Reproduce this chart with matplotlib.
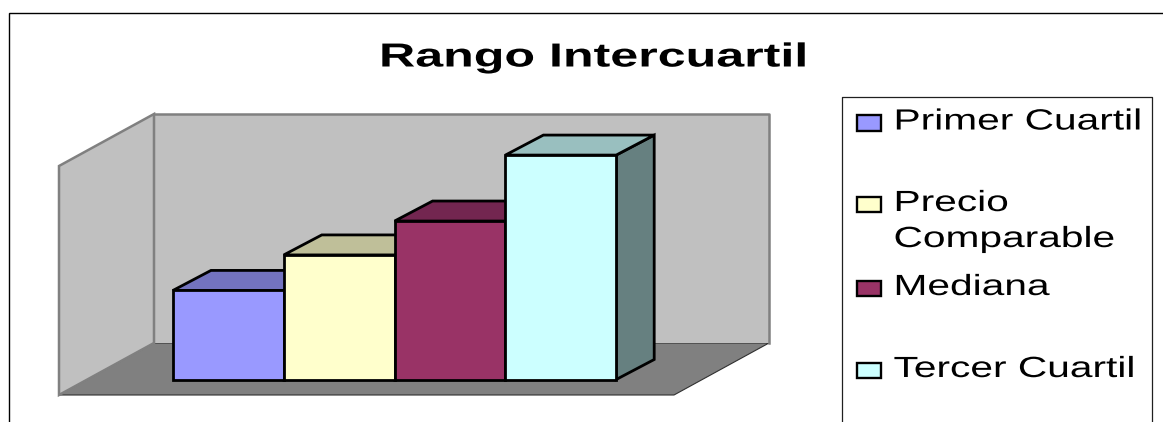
"""
Rango Intercuartil - 3D style column chart with wall, floor and legend box.
The figure axes work in image pixels, the bars go through a small projection.
"""

import matplotlib
matplotlib.use("Agg")
import matplotlib.pyplot as plt
import matplotlib.patheffects as pe
from matplotlib.patches import Polygon, Rectangle
from matplotlib.transforms import Affine2D

# ============================================================
# DATA
# ============================================================

title = "Rango Intercuartil"
categories = ["Primer Cuartil", "Precio\nComparable", "Mediana", "Tercer Cuartil"]
values = [38.9, 54.4, 69.2, 98.0]
front_colors = ["#9999FF", "#FFFFCC", "#993366", "#CCFFFF"]
top_colors = ["#7373BF", "#BFBF99", "#732650", "#99BFBF"]
side_colors = ["#4D4D80", "#808066", "#4D1A33", "#668080"]

# ============================================================
# LAYOUT (pixels)
# ============================================================

W, H = 1163, 422

WALL_X0, WALL_X1 = 154, 769
WALL_TOP, WALL_BOTTOM = 114, 343
FLOOR_DX, FLOOR_DY = 95, 52
SCALE_MAX = 100

BAR_X0 = 173
BAR_W = 110.8
BAR_BASE = 379.5
BAR_DX, BAR_DY = 38, 20

LEG_X0, LEG_X1, LEG_TOP = 841.5, 1151.5, 97
KEY_X, KEY_W, KEY_H = 856.5, 24, 15.5
LEG_TEXT_X = 893.5
LEG_BASELINES = [129.5, 211, 295, 377]


class StretchX(pe.AbstractPathEffect):
    """The source text is drawn wider than its font, so scale it around x0."""

    def __init__(self, sx, x0):
        super().__init__()
        self.sx = sx
        self.x0 = x0

    def draw_path(self, renderer, gc, tpath, affine, rgbFace=None):
        stretch = Affine2D().translate(-self.x0, 0).scale(self.sx, 1).translate(self.x0, 0)
        renderer.draw_path(gc, tpath, affine + stretch, rgbFace)


def value_y(v):
    return BAR_BASE - v / SCALE_MAX * (WALL_BOTTOM - WALL_TOP)


plt.rcParams["font.family"] = ["Liberation Sans", "DejaVu Sans"]

fig = plt.figure(figsize=(W / 100, H / 100), dpi=100)
ax = fig.add_axes([0, 0, 1, 1])
ax.set_xlim(0, W)
ax.set_ylim(H, 0)
ax.axis("off")

# Outer frame, cut off by the image on the right and at the bottom
ax.plot([8.5, 8.5, W], [H, 12.5, 12.5], color="black", lw=1.0, solid_joinstyle="miter")

ax.text(379, 66.5, title, fontsize=24, fontweight="bold", va="baseline", ha="left",
        path_effects=[StretchX(1.505, 379)])

# ============================================================
# WALLS AND FLOOR
# ============================================================

ax.add_patch(Polygon([(WALL_X0, WALL_BOTTOM), (WALL_X1, WALL_BOTTOM),
                      (WALL_X1 - FLOOR_DX, WALL_BOTTOM + FLOOR_DY),
                      (WALL_X0 - FLOOR_DX, WALL_BOTTOM + FLOOR_DY)],
                     facecolor="#808080", edgecolor="#303030", lw=0.8))
ax.add_patch(Polygon([(WALL_X0, WALL_TOP), (WALL_X1, WALL_TOP),
                      (WALL_X1, WALL_BOTTOM), (WALL_X0, WALL_BOTTOM)],
                     facecolor="#C0C0C0", edgecolor="none"))
ax.plot([WALL_X0, WALL_X1, WALL_X1], [WALL_TOP, WALL_TOP, WALL_BOTTOM],
        color="#808080", lw=1.8)
ax.add_patch(Polygon([(WALL_X0 - FLOOR_DX, WALL_TOP + FLOOR_DY), (WALL_X0, WALL_TOP),
                      (WALL_X0, WALL_BOTTOM), (WALL_X0 - FLOOR_DX, WALL_BOTTOM + FLOOR_DY)],
                     facecolor="#C0C0C0", edgecolor="#808080", lw=1.8))

# ============================================================
# BARS
# ============================================================

for i, v in enumerate(values):
    x0 = BAR_X0 + i * BAR_W
    x1 = x0 + BAR_W
    top = value_y(v)
    edge = dict(edgecolor="black", lw=2.0, joinstyle="miter")
    ax.add_patch(Polygon([(x1, top), (x1 + BAR_DX, top - BAR_DY),
                          (x1 + BAR_DX, BAR_BASE - BAR_DY), (x1, BAR_BASE)],
                         facecolor=side_colors[i], **edge))
    ax.add_patch(Polygon([(x0, top), (x0 + BAR_DX, top - BAR_DY),
                          (x1 + BAR_DX, top - BAR_DY), (x1, top)],
                         facecolor=top_colors[i], **edge))
    ax.add_patch(Rectangle((x0, top), BAR_W, BAR_BASE - top,
                           facecolor=front_colors[i], **edge))

# ============================================================
# LEGEND
# ============================================================

ax.plot([LEG_X0, LEG_X0, LEG_X1, LEG_X1], [H, LEG_TOP, LEG_TOP, H], color="#202020", lw=0.9)

for label, color, base in zip(categories, front_colors, LEG_BASELINES):
    ax.add_patch(Rectangle((KEY_X, base - 14.5), KEY_W, KEY_H, facecolor=color,
                           edgecolor="black", lw=1.7))
    lines = label.split("\n")
    for n, line in enumerate(lines):
        ax.text(LEG_TEXT_X, base + n * 36, line, fontsize=21, va="baseline", ha="left",
                path_effects=[StretchX(1.395, LEG_TEXT_X)])

plt.savefig("out.png", dpi=100)
